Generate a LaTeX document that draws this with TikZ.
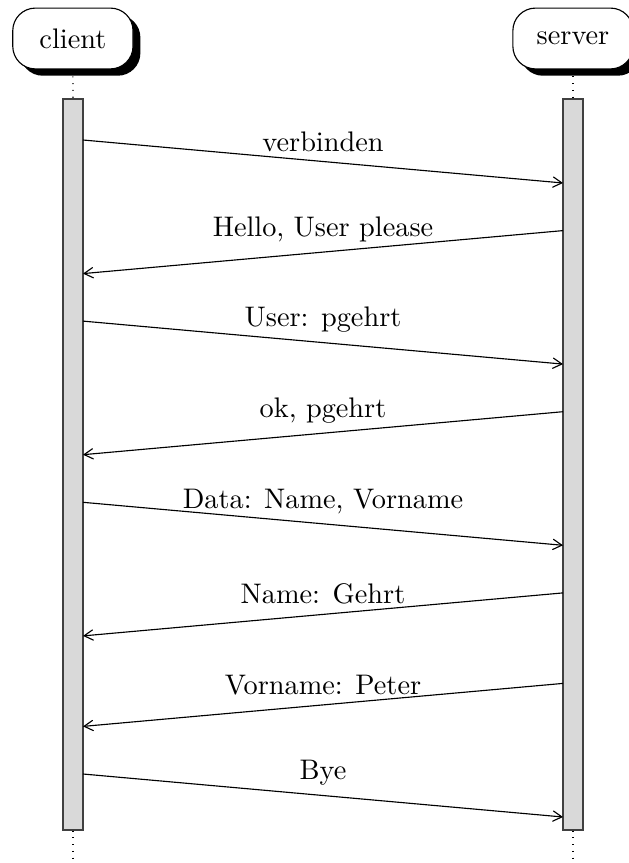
\documentclass[tikz,border=0pt]{standalone}
\usetikzlibrary{shadows,arrows,backgrounds}
\begin{document}
\begin{tikzpicture}[x=0.3534pt,y=-0.3534pt,
  inst/.style={rectangle, rounded corners=8pt, draw, fill=white,
    minimum width=42.5pt, minimum height=21.5pt,
    drop shadow={shadow xshift=2.6pt, shadow yshift=-2.4pt, fill=black, opacity=1}},
  actbar/.style={rectangle, draw=black!75, fill=gray!30, minimum width=7.07pt,
    minimum height=258.3pt, inner sep=0pt},
  life/.style={dotted},
  msg/.style={->, >=angle 60},
  lbl/.style={midway, above}]
\useasboundingbox (0,0) rectangle (629,863);
\node[inst] (client) at (72.9,38.5) {client};
\node[inst] (server) at (573,38.5) {server};
\node[actbar] (cbar) at (73,464.5) {};
\node[actbar] (sbar) at (573,464.5) {};
\coordinate (cend) at (73,863);
\coordinate (send) at (573,863);
\begin{scope}[on background layer]
  \draw[life] (client.south) -- (cbar.north);
  \draw[life] (server.south) -- (sbar.north);
  \draw[life] (cbar.south) -- (cend);
  \draw[life] (sbar.south) -- (send);
\end{scope}
% message end points
\coordinate (c1) at (83,140);    \coordinate (s1) at (563,183);
\coordinate (s2) at (563,230.6); \coordinate (c2) at (83,273.6);
\coordinate (c3) at (83,321.1);  \coordinate (s3) at (563,364.1);
\coordinate (s4) at (563,411.7); \coordinate (c4) at (83,454.7);
\coordinate (c5) at (83,502.3);  \coordinate (s5) at (563,545.3);
\coordinate (s6) at (563,592.9); \coordinate (c6) at (83,635.9);
\coordinate (s7) at (563,683.4); \coordinate (c7) at (83,726.4);
\coordinate (c8) at (83,774);    \coordinate (s8) at (563,817);
\draw[msg] (c1) -- (s1) node[lbl] {verbinden};
\draw[msg] (s2) -- (c2) node[lbl] {Hello, User please};
\draw[msg] (c3) -- (s3) node[lbl] {User: pgehrt};
\draw[msg] (s4) -- (c4) node[lbl] {ok, pgehrt};
\draw[msg] (c5) -- (s5) node[lbl] {Data: Name, Vorname};
\draw[msg] (s6) -- (c6) node[lbl] {Name: Gehrt};
\draw[msg] (s7) -- (c7) node[lbl] {Vorname: Peter};
\draw[msg] (c8) -- (s8) node[lbl] {Bye};
\end{tikzpicture}
\end{document}
